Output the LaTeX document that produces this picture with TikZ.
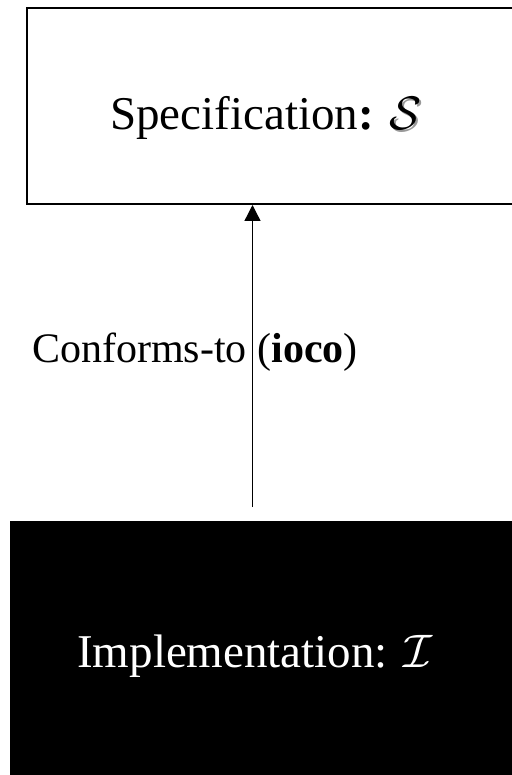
\RequirePackage{fix-cm}
\documentclass[tikz,border=0pt]{standalone}
\usepackage{fontspec}
\setmainfont{Liberation Serif}
\usepackage{tikz}
\usetikzlibrary{arrows.meta}

\newcommand{\shadowcal}[1]{\rlap{\hspace{1.5pt}\raisebox{-1.5pt}{\color{black!40}$\mathcal{#1}$}}$\mathcal{#1}$}

\begin{document}
\begin{tikzpicture}[
            x=1pt, y=-1pt,
            specbox/.style={draw, line width=2pt, minimum width=540pt, minimum height=196pt, anchor=north west, inner sep=0pt},
            implbox/.style={fill=black, minimum width=560pt, minimum height=280pt, anchor=north west, inner sep=0pt},
            boxlabel/.style={font=\fontsize{47}{56}\selectfont, inner sep=0pt, anchor=base},
            edgelabel/.style={font=\fontsize{42}{50}\selectfont, inner sep=0pt, anchor=base west},
            conforms/.style={line width=1.3pt, -{Triangle[width=16pt, length=16pt]}}
        ]
            \useasboundingbox (0,0) rectangle (511,775);
            \node[specbox] (spec) at (26,7) {};
            \node[implbox] (impl) at (10,521) {};
            \node[boxlabel] (speclabel) at (266,130) {Specification\textbf{:} \shadowcal{S}};
            \node[boxlabel, text=white] (impllabel) at (255,667) {Implementation: $\mathcal{I}$};
            \coordinate (tail) at (252.5,507);
            \draw[conforms] (tail) -- (tail |- spec.south);
            \node[edgelabel] (conflabel) at (32,362) {Conforms-to (\textbf{ioco})};
        \end{tikzpicture}
\end{document}
